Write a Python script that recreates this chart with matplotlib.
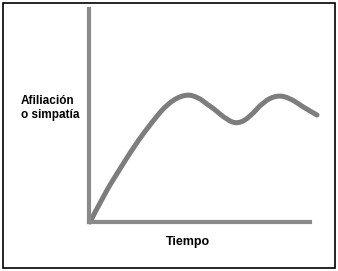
import matplotlib
matplotlib.use("Agg")
import matplotlib.pyplot as plt
from matplotlib.patches import Rectangle, PathPatch
from matplotlib.path import Path

# curve (arbitrary units, origin at the axes corner)
tiempo = [1, 16, 29, 46, 63, 79, 96, 109, 119, 124, 138, 149, 161, 174, 188, 201, 214, 228]
afiliacion = [0, 29, 50, 77, 100, 119, 128, 125, 117, 114, 102, 98, 105, 120, 127, 124, 115, 107]

ylabel = "Afiliación\no simpatía"
xlabel = "Tiempo"

plt.rcParams['font.family'] = ['Liberation Sans', 'DejaVu Sans']

fig = plt.figure(figsize=(3.38, 2.71), dpi=100)
ax = fig.add_axes([89/338, 49/271, 221/338, 213/271])

# smooth the read points with quadratic bezier pieces through the midpoints
pts = list(zip(tiempo, afiliacion))
verts = [pts[0]]
codes = [Path.MOVETO]
for i in range(1, len(pts) - 1):
    mid = ((pts[i][0] + pts[i+1][0]) / 2, (pts[i][1] + pts[i+1][1]) / 2)
    verts += [pts[i], mid]
    codes += [Path.CURVE3, Path.CURVE3]
verts.append(pts[-1])
codes.append(Path.LINETO)
curve = PathPatch(Path(verts, codes), facecolor="none", edgecolor="#7d7d7d",
                  linewidth=3.6, capstyle="round", joinstyle="round", clip_on=False)
ax.add_patch(curve)

ax.set_xlim(0, 221)
ax.set_ylim(0, 213)
for s in ["top", "right"]:
    ax.spines[s].set_visible(False)
for s in ["left", "bottom"]:
    ax.spines[s].set_color("#8a8a8a")
    ax.spines[s].set_linewidth(3)
ax.set_xticks([])
ax.set_yticks([])

fig.text(21/338, 1 - 108/271, ylabel, ha="left", va="center", fontsize=8.5,
         fontweight="bold", linespacing=1.25)
fig.text(188/338, 1 - 242/271, xlabel, ha="center", va="center", fontsize=9,
         fontweight="bold")

# frame round the whole picture
fig.patches.append(Rectangle((3/338, 3/271), 332/338, 265/271, transform=fig.transFigure,
                             fill=False, edgecolor="black", linewidth=1.2))

fig.savefig("out.png", dpi=100)
